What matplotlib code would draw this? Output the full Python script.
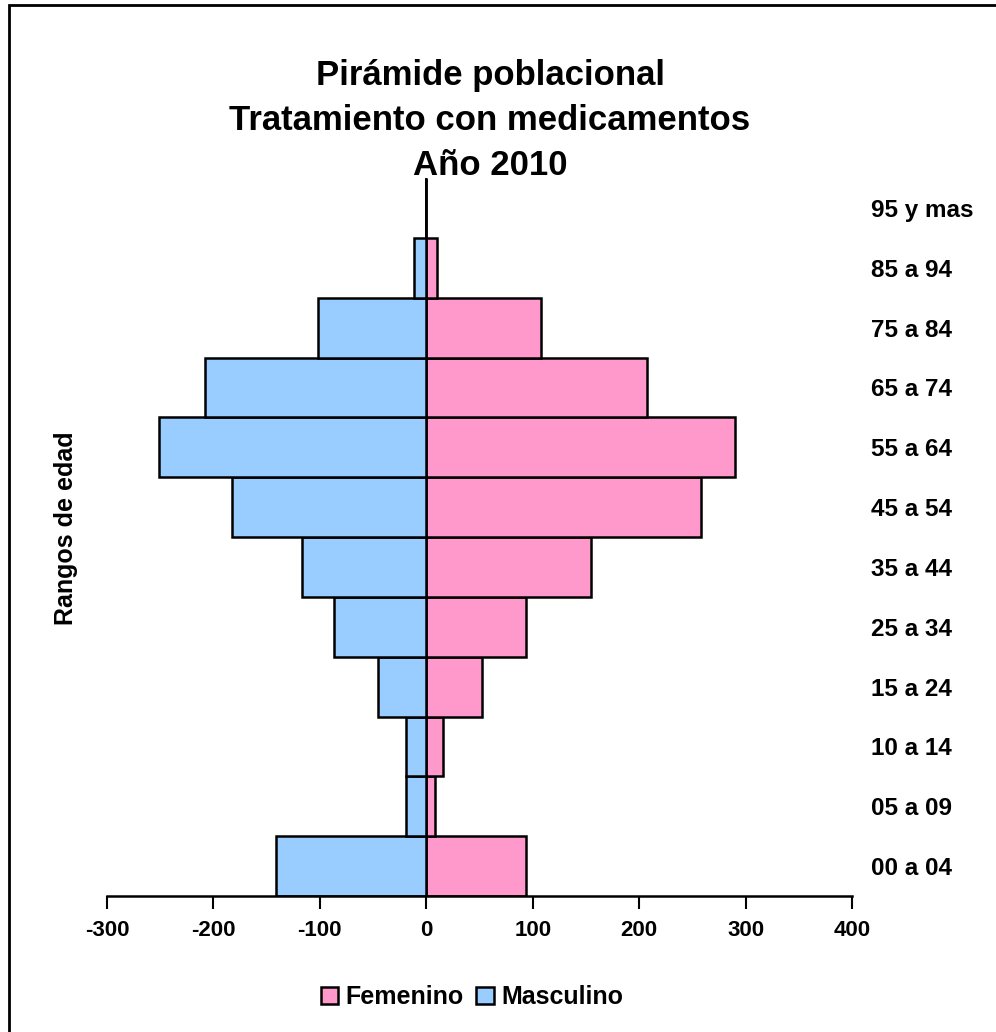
import matplotlib.pyplot as plt
from matplotlib.patches import Rectangle

plt.rcParams["font.family"] = ["Liberation Sans", "DejaVu Sans"]
plt.rcParams["font.weight"] = "bold"

rangos = ["00 a 04", "05 a 09", "10 a 14", "15 a 24", "25 a 34", "35 a 44",
          "45 a 54", "55 a 64", "65 a 74", "75 a 84", "85 a 94", "95 y mas"]
femenino = [94, 8, 16, 52, 94, 155, 258, 290, 207, 108, 10, 0]
masculino = [-141, -19, -19, -45, -87, -117, -183, -251, -208, -102, -12, 0]
xticks = [-300, -200, -100, 0, 100, 200, 300, 400]

fig = plt.figure(figsize=(9.96, 10.32), dpi=100)
ax = fig.add_axes([107 / 996, 1 - 896 / 1032, 745 / 996, 718 / 1032])

pos = list(range(len(rangos)))
ax.barh(pos, femenino, height=1.0, color="#FF99CC", edgecolor="black",
        linewidth=1.8, label="Femenino")
ax.barh(pos, masculino, height=1.0, color="#99CCFF", edgecolor="black",
        linewidth=1.8, label="Masculino")
ax.axvline(0, color="black", lw=1.2, zorder=0)

ax.set_xlim(-300, 400)
ax.set_ylim(-0.5, len(rangos) - 0.5)
ax.set_xticks(xticks)
ax.set_xticklabels([str(v) for v in xticks], fontsize=16, fontweight="bold")
ax.tick_params(axis="x", direction="out", length=9, width=1.5, pad=8)

ax.yaxis.tick_right()
ax.set_yticks(pos)
ax.set_yticklabels(rangos, fontsize=17.5, fontweight="bold")
ax.tick_params(axis="y", length=0, pad=14)

for s in ["top", "left", "right"]:
    ax.spines[s].set_visible(False)
ax.spines["bottom"].set_linewidth(1.8)

fig.text(490 / 996, 1 - 75 / 1032, "Pirámide poblacional", ha="center",
         va="center", fontsize=25, fontweight="bold")
fig.text(490 / 996, 1 - 120 / 1032, "Tratamiento con medicamentos", ha="center",
         va="center", fontsize=25, fontweight="bold")
fig.text(490 / 996, 1 - 165 / 1032, "Año 2010", ha="center",
         va="center", fontsize=25, fontweight="bold")

fig.text(66 / 996, 1 - 528 / 1032, "Rangos de edad", rotation=90, ha="center",
         va="center", fontsize=18, fontweight="bold")

fig.legend(loc="center", bbox_to_anchor=(472 / 996, 1 - 997 / 1032), ncol=2,
           frameon=False, handlelength=0.7, handleheight=0.7,
           handletextpad=0.3, columnspacing=0.5, prop={"weight": "bold", "size": 18})

fig.patches.append(Rectangle((9 / 996, -0.1), 1.2, 1 - 5 / 1032 + 0.1,
                             transform=fig.transFigure, fill=False,
                             edgecolor="black", linewidth=2))

fig.savefig("out.png", dpi=100)
